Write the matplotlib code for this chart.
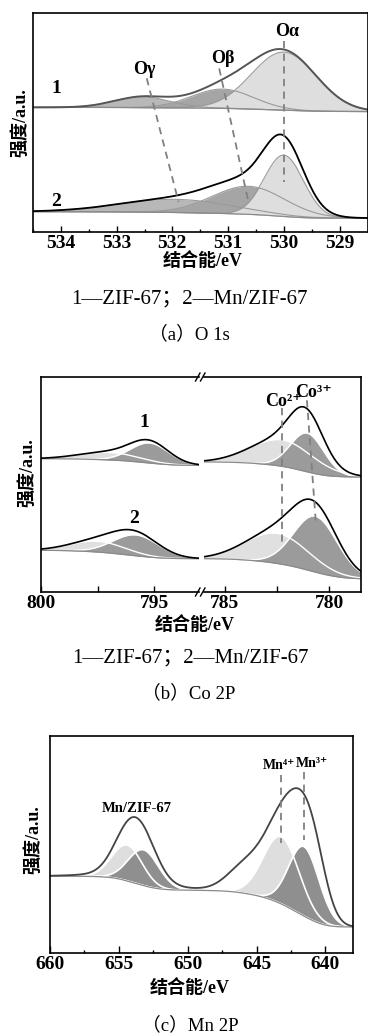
import numpy as np
import matplotlib
matplotlib.use("Agg")
import matplotlib.pyplot as plt
from matplotlib.lines import Line2D
from matplotlib.ticker import MultipleLocator

W, H = 368, 1034
plt.rcParams["font.family"] = ["Liberation Serif", "DejaVu Serif", "Noto Sans CJK SC"]
plt.rcParams["font.weight"] = "bold"

# ---------------- data (peak fits) ----------------
# (a) O 1s : components Oγ, Oβ, Oα
o_colors = ["#b8b8b8", "#a5a5a5", "#dedede"]
o1_center = [532.54, 531.10, 530.00]
o1_height = [4.9, 8.8, 26.5]
o1_sigma = [0.50, 0.55, 0.58]
o1_bg = [56.9, 55.0]          # high-BE end, low-BE end
o2_center = [531.94, 530.63, 530.00]
o2_height = [6.0, 12.8, 28.0]
o2_sigma = [1.00, 0.65, 0.35]
o2_bg = [9.3, 6.3]

# (b) Co 2p : components Co2+ (light), Co3+ (dark); two energy windows
co_colors = ["#e0e0e0", "#9b9b9b"]
co1_l_center = [797.0, 795.2]
co1_l_height = [3.5, 9.3]
co1_l_sigma = [1.3, 0.85]
co1_l_bg = [62.0, 58.9]
co1_r_center = [782.25, 781.05]
co1_r_height = [12.3, 18.0]
co1_r_sigma = [1.5, 0.8]
co1_r_bg = [60.5, 53.5]
co1_r_extra = [(781.3, 2.5, 0.7)]
co2_l_center = [797.5, 795.8]
co2_l_height = [5.0, 9.7]
co2_l_sigma = [1.2, 1.0]
co2_l_bg = [19.4, 15.5]
co2_r_center = [782.5, 780.65]
co2_r_height = [14.0, 26.0]
co2_r_sigma = [1.5, 1.05]
co2_r_bg = [15.5, 6.2]

# (c) Mn 2p : Mn4+ (light), Mn3+ (dark) for 2p1/2 and 2p3/2
mn_colors = ["#dedede", "#8f8f8f", "#dedede", "#8f8f8f"]
mn_center = [654.4, 653.2, 643.2, 641.55]
mn_height = [16.5, 16.5, 31.0, 32.0]
mn_sigma = [1.1, 1.1, 1.3, 1.1]
mn_extra = [(653.5, 2.0, 3.0), (645.8, 12.0, 1.3), (643.0, 4.0, 1.2), (640.7, 13.0, 0.9)]
mn_bg = [35.4, 12.0]


def gauss(x, c, h, s):
    return h * np.exp(-(x - c) ** 2 / (2 * s ** 2))


def draw_spectrum(ax, lo, hi, centers, heights, sigmas, colors, bg_ends,
                  extra=(), edge="white", edge_lw=1.0, env="black", env_lw=1.2):
    x = np.linspace(lo, hi, 600)
    comps = [gauss(x, c, h, s) for c, h, s in zip(centers, heights, sigmas)]
    hidden = [gauss(x, c, h, s) for c, h, s in extra]
    total = np.sum(comps + hidden, axis=0)
    # Shirley-type background
    area = np.concatenate([[0], np.cumsum((total[1:] + total[:-1]) / 2 * np.diff(x))])
    bg = bg_ends[1] + (bg_ends[0] - bg_ends[1]) * area / area[-1]
    for comp, col in zip(comps, colors):
        ax.fill_between(x, bg, bg + comp, color=col, lw=0)
    for comp in comps:
        ax.plot(x, bg + comp, color=edge, lw=edge_lw)
    ax.plot(x, bg, color="#8a8a8a", lw=0.9)
    ax.plot(x, bg + total, color=env, lw=env_lw)


def rect(l, r, t, b):
    return [l / W, 1 - b / H, (r - l) / W, (b - t) / H]


def style(ax, major, minor, maj_len=4, min_len=2):
    ax.set_ylim(0, 100)
    ax.set_yticks([])
    ax.xaxis.set_major_locator(MultipleLocator(major))
    ax.xaxis.set_minor_locator(MultipleLocator(minor))
    ax.tick_params(axis="x", which="major", direction="in", length=maj_len, width=1,
                   labelsize=14, pad=2.5)
    ax.tick_params(axis="x", which="minor", direction="in", length=min_len, width=1)
    for sp in ax.spines.values():
        sp.set_linewidth(1.2)


def ftext(x, y, s, **kw):
    fig.text(x / W, 1 - y / H, s, ha="center", va="center", **kw)


dash = dict(color="#808080", lw=1.3, ls=(0, (4, 3)))

fig = plt.figure(figsize=(W / 100, H / 100), dpi=100)

# ---------------- (a) ----------------
ax = fig.add_axes(rect(33, 367.5, 13, 232))
draw_spectrum(ax, 528.5, 534.5, o1_center, o1_height, o1_sigma, o_colors, o1_bg,
              edge="#9a9a9a", edge_lw=0.8, env="#555555", env_lw=1.4)
draw_spectrum(ax, 528.5, 534.5, o2_center, o2_height, o2_sigma, o_colors, o2_bg,
              edge="#9a9a9a", edge_lw=0.8, env="black", env_lw=1.3)
ax.set_xlim(534.5, 528.5)
style(ax, 1, 0.5)
ax.plot([o1_center[2], o2_center[2]], [87.2, 23.0], **dash)
ax.plot([o1_center[1] + 0.06, o2_center[1]], [74.7, 13.1], **dash)
ax.plot([o1_center[0] - 0.08, o2_center[0] - 0.05], [70.2, 13.8], **dash)
ax.text(529.95, 91.5, "Oα", fontsize=13, ha="center", va="center")
ax.text(531.09, 79.3, "Oβ", fontsize=13, ha="center", va="center")
ax.text(532.50, 74.0, "Oγ", fontsize=13, ha="center", va="center")
ax.text(534.09, 65.6, "1", fontsize=14, ha="center", va="center")
ax.text(534.09, 13.8, "2", fontsize=14, ha="center", va="center")
ftext(20, 123, "强度/a.u.", rotation=90, fontsize=13)
ftext(203, 261, "结合能/eV", fontsize=13)
ftext(189, 299, "1—ZIF-67；2—Mn/ZIF-67", fontsize=15, weight="normal")
ftext(189, 334, "（a）O 1s", fontsize=13.5, weight="normal")

# ---------------- (b) ----------------
axl = fig.add_axes(rect(41, 198.5, 377, 592))
axr = fig.add_axes(rect(203.5, 360.5, 377, 592))
draw_spectrum(axl, 793.05, 800, co1_l_center, co1_l_height, co1_l_sigma, co_colors, co1_l_bg)
draw_spectrum(axl, 793.05, 800, co2_l_center, co2_l_height, co2_l_sigma, co_colors, co2_l_bg)
draw_spectrum(axr, 778.5, 786.03, co1_r_center, co1_r_height, co1_r_sigma, co_colors, co1_r_bg,
              extra=co1_r_extra)
draw_spectrum(axr, 778.5, 786.03, co2_r_center, co2_r_height, co2_r_sigma, co_colors, co2_r_bg)
axl.set_xlim(800, 793.05)
axr.set_xlim(786.03, 778.5)
style(axl, 5, 2.5, 4, 4)
style(axr, 5, 2.5, 4, 4)
axl.spines["right"].set_visible(False)
axr.spines["left"].set_visible(False)
axr.plot([co1_r_center[0], co1_r_center[0]], [85.5, 22.6], **dash)
axr.plot([781.07, co2_r_center[1]], [89.2, 33.3], **dash)
axr.text(782.2, 88.4, "Co²⁺", fontsize=13, ha="center", va="center")
axr.text(780.77, 93.0, "Co³⁺", fontsize=13, ha="center", va="center")
axl.text(795.45, 79.0, "1", fontsize=14, ha="center", va="center")
axl.text(795.9, 34.1, "2", fontsize=14, ha="center", va="center")
for yb in (377, 592):
    for x0 in (195.5, 200.5):
        fig.add_artist(Line2D([x0 / W, (x0 + 4.5) / W],
                              [1 - (yb + 4) / H, 1 - (yb - 4) / H], color="black", lw=1))
ftext(27, 473, "强度/a.u.", rotation=90, fontsize=13)
ftext(195, 625, "结合能/eV", fontsize=13)
ftext(190, 658, "1—ZIF-67；2—Mn/ZIF-67", fontsize=15, weight="normal")
ftext(189, 693, "（b）Co 2P", fontsize=13.5, weight="normal")

# ---------------- (c) ----------------
ax = fig.add_axes(rect(50, 353, 736, 953))
draw_spectrum(ax, 638, 660, mn_center, mn_height, mn_sigma, mn_colors, mn_bg,
              extra=mn_extra, edge_lw=1.2, env="#444444", env_lw=1.3)
ax.set_xlim(660, 638)
style(ax, 5, 2.5, 5, 2)
ax.plot([mn_center[2], mn_center[2]], [82.0, 50.8], **dash)
ax.plot([mn_center[3], mn_center[3]], [83.5, 52.0], **dash)
ax.text(643.4, 86.2, "Mn⁴⁺", fontsize=10, ha="center", va="center")
ax.text(641.0, 87.4, "Mn³⁺", fontsize=10, ha="center", va="center")
ax.text(653.7, 66.6, "Mn/ZIF-67", fontsize=10.5, ha="center", va="center")
ftext(33, 840, "强度/a.u.", rotation=90, fontsize=13)
ftext(190, 988, "结合能/eV", fontsize=13)
ftext(190, 1025, "（c）Mn 2P", fontsize=13.5, weight="normal")

fig.savefig("out.png", dpi=100)
